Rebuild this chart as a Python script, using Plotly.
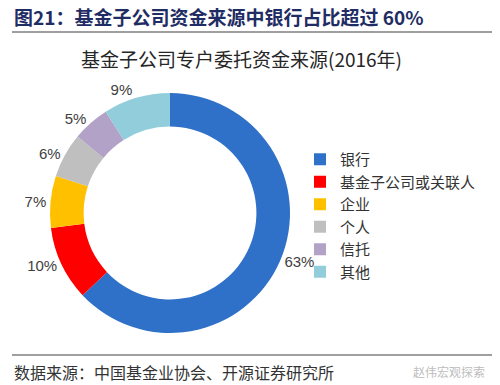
import plotly.graph_objects as go

categories = ["银行", "基金子公司或关联人", "企业", "个人", "信托", "其他"]
values = [63, 10, 7, 6, 5, 9]
colors = ["#2F70C8", "#FF0000", "#FFC000", "#BFBFBF", "#B3A2C7", "#92CDDC"]

title_text = "图21：基金子公司资金来源中银行占比超过 60%"
subtitle_text = "基金子公司专户委托资金来源(2016年)"
source_text = "数据来源：中国基金业协会、开源证券研究所"
watermark_text = "赵伟宏观探索"

W, H = 500, 385
cx, cy, r = 170, 213, 120

fig = go.Figure()
fig.add_trace(go.Pie(
    labels=categories,
    values=values,
    marker=dict(colors=colors, line=dict(width=0)),
    hole=0.72,
    sort=False,
    direction="clockwise",
    rotation=0,
    textinfo="percent",
    texttemplate="%{percent:.0%}",
    textposition="outside",
    outsidetextfont=dict(family="Liberation Sans, Arial", size=15, color="#404040"),
    domain=dict(x=[(cx - r) / W, (cx + r) / W],
                y=[(H - cy - r) / H, (H - cy + r) / H]),
    showlegend=True,
))

fig.update_layout(
    width=W, height=H,
    margin=dict(l=0, r=0, t=0, b=0),
    paper_bgcolor="white",
    plot_bgcolor="white",
    font=dict(family="Noto Sans CJK SC", color="#333333"),
    legend=dict(
        x=300 / W, y=(H - 143) / H, xanchor="left", yanchor="top",
        font=dict(family="Noto Sans CJK SC", size=15, color="#333333"),
        itemwidth=30,
        bgcolor="rgba(0,0,0,0)",
    ),
    annotations=[
        dict(text="<b>" + title_text + "</b>", x=12 / W, y=1 - 16 / H, xref="paper", yref="paper",
             xanchor="left", yanchor="middle", showarrow=False,
             font=dict(family="Noto Sans CJK SC", size=19, color="#1F2D64")),
        dict(text=subtitle_text, x=241 / W, y=1 - 58 / H, xref="paper", yref="paper",
             xanchor="center", yanchor="middle", showarrow=False,
             font=dict(family="Noto Sans CJK SC", size=19, color="#262626")),
        dict(text=source_text, x=12 / W, y=1 - 372 / H, xref="paper", yref="paper",
             xanchor="left", yanchor="middle", showarrow=False,
             font=dict(family="Noto Sans CJK SC", size=16, color="#333333")),
        dict(text=watermark_text, x=487 / W, y=1 - 371 / H, xref="paper", yref="paper",
             xanchor="right", yanchor="middle", showarrow=False,
             font=dict(family="Noto Sans CJK SC", size=12, color="#BDBDBD")),
    ],
    shapes=[
        dict(type="line", xref="paper", yref="paper", x0=12 / W, x1=492 / W,
             y0=1 - 32 / H, y1=1 - 32 / H, line=dict(color="#7F7F7F", width=1.5)),
        dict(type="line", xref="paper", yref="paper", x0=12 / W, x1=492 / W,
             y0=1 - 355 / H, y1=1 - 355 / H, line=dict(color="#7F7F7F", width=1.5)),
    ],
)

fig.write_html("out.html", config={"displayModeBar": False},
               post_script="document.body.style.margin='0';document.body.style.overflow='hidden';")
